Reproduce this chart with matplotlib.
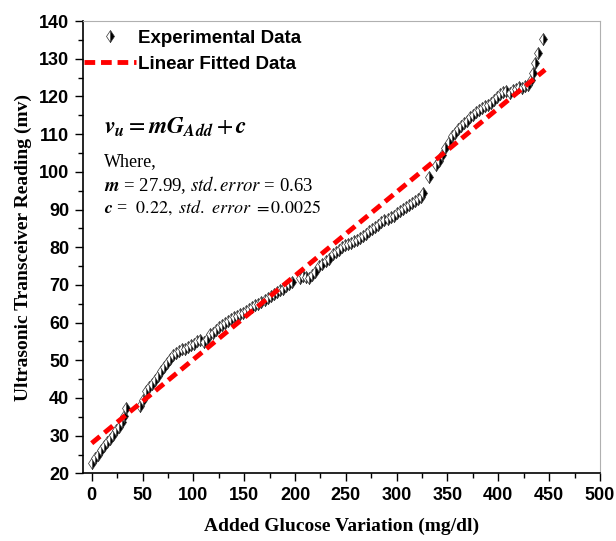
import matplotlib
matplotlib.use('Agg')
import matplotlib.pyplot as plt
from matplotlib.ticker import MultipleLocator

#%% Data
glucose = [0, 3, 6, 9, 12, 15, 18, 21, 24, 27, 30, 32, 34,
           48, 50, 53, 56, 59, 62, 65, 68, 71, 74, 77, 80, 83, 86, 89, 92, 95, 98, 101, 104, 107,
           110, 113, 116, 119, 122, 125, 128, 131, 134, 137, 140, 143, 146, 149, 152, 155, 158,
           161, 164, 167, 170, 173, 176, 179, 182, 185, 188, 191, 194, 197,
           205, 208, 211, 214, 217, 220, 224, 227, 230, 233, 237, 240, 243, 246, 249, 252, 255,
           258, 261, 264, 267, 270, 273, 276, 279, 282, 285, 288, 291, 294, 297, 300, 303, 306,
           309, 312, 315, 318, 321, 324, 326,
           332, 339, 342, 345, 348, 351, 354, 357, 360, 363, 366, 369, 372, 375, 378, 381, 384,
           387, 390, 393, 396, 399, 402, 405, 408, 411, 414, 417, 420, 423, 426, 429, 432, 434,
           436, 439, 444]
reading = [22.7, 24.0, 25.0, 26.2, 27.3, 28.3, 29.2, 30.3, 31.5, 32.4, 33.5, 35.2, 37.3,
           37.8, 39.5, 41.8, 42.8, 43.8, 44.9, 45.9, 47.2, 48.3, 49.2, 50.3, 51.5, 52.0, 52.6, 53.1,
           53.0, 53.4, 54.0, 54.3, 55.0, 55.5,
           54.8, 55.6, 57.0, 57.3, 58.0, 58.8, 59.4, 60.0, 60.4, 61.0, 61.4, 61.8, 62.2, 62.6, 63.0,
           63.6, 64.2, 64.6, 65.0, 65.5, 66.0, 66.4, 67.0, 67.5, 68.0, 68.6, 69.0, 69.6, 70.2, 70.8,
           71.8, 72.3, 72.2, 71.8, 72.6, 73.5, 74.9, 75.6, 76.3, 77.0, 78.2, 78.8, 79.3, 80.0, 80.5,
           80.9, 81.2, 81.6, 82.0, 82.4, 83.0, 83.6, 84.2, 84.8, 85.4, 86.0, 86.6, 87.2, 87.6, 88.0,
           88.4, 89.0, 89.6, 90.2, 90.8, 91.3, 91.8, 92.3, 92.7, 93.4, 94.4,
           98.6, 101.9, 103.0, 104.5, 106.3, 107.8, 109.6, 110.4, 111.4, 112.2, 112.9, 113.6, 114.5,
           115.2, 116.0, 116.5, 116.9, 117.4, 117.8, 118.3, 119.0, 119.8, 120.6, 121.3, 121.5, 121.0,
           121.6, 122.0, 122.6, 122.3, 122.8, 123.1, 124.5, 126.2, 128.9, 131.5, 135.3]

# fitted line end points
fit_x = [0, 446]
fit_y = [28.0, 127.1]

x_ticks = [0, 50, 100, 150, 200, 250, 300, 350, 400, 450, 500]
y_ticks = [20, 30, 40, 50, 60, 70, 80, 90, 100, 110, 120, 130, 140]

#%% Plot features
plt.rcParams['mathtext.fontset'] = 'stix'
tick_font = {'family': 'Liberation Sans', 'weight': 'bold', 'size': 13}
label_font = {'family': 'Liberation Serif', 'weight': 'bold', 'size': 14}

fig = plt.figure(figsize=(6.16, 5.41), dpi=100)
ax = fig.add_axes([0.134, 0.125, 0.840, 0.836])

ax.plot(glucose, reading, linestyle='none', marker='d', markersize=6,
        fillstyle='right', markerfacecolor='black', markerfacecoloralt='white',
        markeredgecolor='#333333', markeredgewidth=0.5, label='Experimental Data')
ax.plot(fit_x, fit_y, color='red', linestyle=(0, (2.2, 1.2)), linewidth=3.5,
        label='Linear Fitted Data')

ax.set_xlim(-9, 500)
ax.set_ylim(20, 140)
ax.set_xticks(x_ticks)
ax.set_yticks(y_ticks)
ax.xaxis.set_minor_locator(MultipleLocator(25))
ax.yaxis.set_minor_locator(MultipleLocator(5))
ax.tick_params(which='major', direction='out', length=6, width=1)
ax.tick_params(which='minor', direction='out', length=3.5, width=1)
for lab in ax.get_xticklabels() + ax.get_yticklabels():
    lab.set_fontproperties(matplotlib.font_manager.FontProperties(**tick_font))

for side in ['top', 'right']:
    ax.spines[side].set_color('#b0b0b0')
for side in ['left', 'bottom']:
    ax.spines[side].set_linewidth(1.2)

ax.set_xlabel('Added Glucose Variation (mg/dl)', fontdict=label_font, labelpad=10)
ax.set_ylabel('Ultrasonic Transceiver Reading (mv)', fontdict=label_font, labelpad=5)

leg = ax.legend(loc='upper left', bbox_to_anchor=(-0.03, 1.018), frameon=False,
                handlelength=2.8, handletextpad=0.1, labelspacing=0.45,
                prop={'family': 'Liberation Sans', 'weight': 'bold', 'size': 13.5})

ax.text(12, 112, r'$\mathbfit{v_u} = \mathbfit{m}\mathbfit{G}_{\mathbfit{Add}} + \mathbfit{c}$',
        fontsize=17, va='center')
ax.text(12, 102.6, 'Where,', family='Liberation Serif', fontsize=13, va='center')
ax.text(12, 96.5, r'$\mathbfit{m}$ = 27.99, $\mathit{std.error}$ = 0.63',
        family='Liberation Serif', fontsize=13.5, va='center')
ax.text(12, 90.6, r'$\mathbfit{c}$ =  $\mathit{0.22,\ std.\ error\ =0.0025}$',
        family='Liberation Serif', fontsize=13, va='center')

plt.savefig('out.png', dpi=100)
plt.close(fig)
